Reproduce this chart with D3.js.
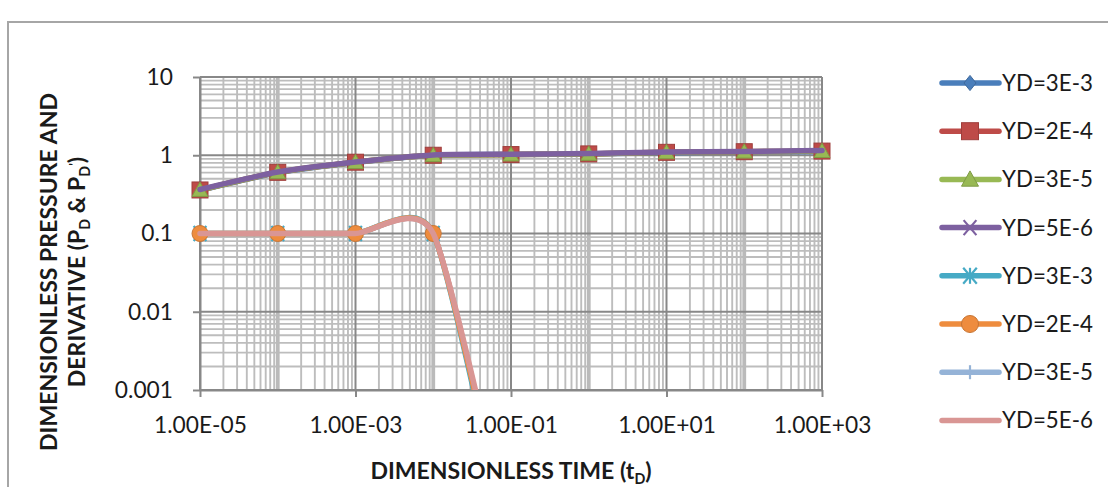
<!DOCTYPE html>
<html><head><meta charset="utf-8">
<script src="https://cdn.jsdelivr.net/npm/d3@7"></script>
<style>
body{margin:0;background:#fff}
svg{display:block}
text{font-family:Lato,"Open Sans",sans-serif}
</style>
</head><body>
<svg id="c" width="1108" height="487"></svg>
<script>
// ---------------- DATA ----------------
const times = [1e-5, 1e-4, 1e-3, 1e-2, 1e-1, 1, 10, 100, 1000];
const pdYD3e3 = [0.355, 0.60, 0.81, 1.00, 1.02, 1.04, 1.08, 1.10, 1.12];
const pdYD2e4 = [0.36, 0.605, 0.815, 1.00, 1.02, 1.04, 1.09, 1.11, 1.13];
const pdYD3e5 = [0.36, 0.605, 0.815, 1.00, 1.02, 1.04, 1.09, 1.11, 1.13];
const pdYD5e6 = [0.365, 0.61, 0.82, 1.01, 1.03, 1.05, 1.10, 1.12, 1.15];
const derTimes = [1e-5, 1e-4, 1e-3, 1e-2, 1e-1];
const derYD3e3 = [0.1, 0.1, 0.1, 0.1, 6e-6];
const derYD2e4 = [0.1, 0.1, 0.1, 0.1, 7.5e-6];
const derYD3e5 = [0.1, 0.1, 0.1, 0.1, 8.5e-6];
const derYD5e6 = [0.1, 0.1, 0.1, 0.1, 1e-5];
const seriesNames = ["YD=3E-3","YD=2E-4","YD=3E-5","YD=5E-6","YD=3E-3","YD=2E-4","YD=3E-5","YD=5E-6"];
const xTickValues = [1e-5, 1e-3, 1e-1, 1e1, 1e3];
const xTickLabels = ["1.00E-05","1.00E-03","1.00E-01","1.00E+01","1.00E+03"];
const yTickValues = [0.001, 0.01, 0.1, 1, 10];
const yTickLabels = ["0.001","0.01","0.1","1","10"];
const xTitle = "DIMENSIONLESS TIME";
const yTitle1 = "DIMENSIONLESS PRESSURE AND";

// ---------------- STYLE ----------------
const colors = ["#4A7EBB","#BE4B48","#98B954","#7D60A0","#46AAC5","#EE8C3E","#95B3D7","#D99694"];
const markers = ["diamond","square","triangle","x","star","circle","plus","none"];
const series = [
  {t: times, v: pdYD3e3}, {t: times, v: pdYD2e4}, {t: times, v: pdYD3e5}, {t: times, v: pdYD5e6},
  {t: derTimes, v: derYD3e3}, {t: derTimes, v: derYD2e4}, {t: derTimes, v: derYD3e5}, {t: derTimes, v: derYD5e6}
].map((s, i) => ({...s, name: seriesNames[i], color: colors[i], marker: markers[i]}));

const svg = d3.select("#c");
const L = 200, R = 822, T = 77, B = 390;
const x = d3.scaleLog().domain([1e-5, 1e3]).range([L, R]);
const y = d3.scaleLog().domain([1e-3, 10]).range([B, T]);

function fitFont(sample, target, weight) {
  const t = svg.append("text").attr("font-size", 100).attr("font-weight", weight).text(sample);
  const w = t.node().getComputedTextLength(); t.remove();
  return 100 * target / w;
}
const tickFont = fitFont("1.00E-05", 93, 400);
const legFont = fitFont("YD=3E-3", 91, 400);
const titleFont = fitFont(yTitle1, 358, 700);

// chart area frame
svg.append("path").attr("d", "M8,1200V22H1300").attr("fill", "none").attr("stroke", "#a6a6a6").attr("stroke-width", 2);

// ---------------- GRID ----------------
const grid = svg.append("g");
const minorX = [], midX = [];
for (let e = -5; e <= 2; e++) {
  for (let d = 2; d <= 9; d++) minorX.push(d * Math.pow(10, e));
  if (e > -5 && (e + 5) % 2 === 1) midX.push(Math.pow(10, e));
}
const minorY = [];
for (let e = -3; e <= 0; e++) for (let d = 2; d <= 9; d++) minorY.push(d * Math.pow(10, e));

grid.selectAll(".mx").data(minorX).join("line")
  .attr("x1", d => x(d)).attr("x2", d => x(d)).attr("y1", T).attr("y2", B)
  .attr("stroke", "#bdbdbd").attr("stroke-width", 1.9);
grid.selectAll(".my").data(minorY).join("line")
  .attr("y1", d => y(d)).attr("y2", d => y(d)).attr("x1", L).attr("x2", R)
  .attr("stroke", "#bdbdbd").attr("stroke-width", 1.9);
grid.selectAll(".dx").data(midX).join("line")
  .attr("x1", d => x(d)).attr("x2", d => x(d)).attr("y1", T).attr("y2", B)
  .attr("stroke", "#bababa").attr("stroke-width", 3.8);
grid.selectAll(".Mx").data(xTickValues).join("line")
  .attr("x1", d => x(d)).attr("x2", d => x(d)).attr("y1", T).attr("y2", B)
  .attr("stroke", "#888888").attr("stroke-width", 2);
grid.selectAll(".My").data(yTickValues).join("line")
  .attr("y1", d => y(d)).attr("y2", d => y(d)).attr("x1", L).attr("x2", R)
  .attr("stroke", "#888888").attr("stroke-width", 2);

// ---------------- AXES ----------------
const xAxis = svg.append("g").attr("transform", `translate(0,${B})`)
  .call(d3.axisBottom(x).tickValues(xTickValues).tickFormat((d, i) => xTickLabels[i]).tickSize(7).tickSizeOuter(0).tickPadding(20));
const yAxis = svg.append("g").attr("transform", `translate(${L},0)`)
  .call(d3.axisLeft(y).tickValues(yTickValues).tickFormat((d, i) => yTickLabels[i]).tickSize(7).tickSizeOuter(0).tickPadding(20));
[xAxis, yAxis].forEach(a => {
  a.select(".domain").attr("stroke", "#888888").attr("stroke-width", 2);
  a.selectAll(".tick line").attr("stroke", "#888888").attr("stroke-width", 2);
  a.selectAll(".tick text").attr("font-size", tickFont).attr("fill", "#1a1a1a").attr("font-family", "Lato");
});

// ---------------- TITLES ----------------
const xt = svg.append("text").attr("x", (L + R) / 2).attr("y", 479).attr("text-anchor", "middle")
  .attr("font-size", titleFont).attr("font-weight", 700).attr("fill", "#1a1a1a");
xt.append("tspan").text(xTitle + " (t");
xt.append("tspan").attr("font-size", titleFont * 0.62).attr("dy", titleFont * 0.22).text("D");
xt.append("tspan").attr("dy", -titleFont * 0.22).text(")");

const yt = svg.append("g").attr("transform", "translate(0,272) rotate(-90)");
yt.append("text").attr("x", 0).attr("y", 57).attr("text-anchor", "middle")
  .attr("font-size", titleFont).attr("font-weight", 700).attr("fill", "#1a1a1a").text(yTitle1);
const y2 = yt.append("text").attr("x", 0).attr("y", 85).attr("text-anchor", "middle")
  .attr("font-size", titleFont).attr("font-weight", 700).attr("fill", "#1a1a1a");
y2.append("tspan").text("DERIVATIVE (P");
y2.append("tspan").attr("font-size", titleFont * 0.62).attr("dy", titleFont * 0.22).text("D");
y2.append("tspan").attr("dy", -titleFont * 0.22).text(" & P");
y2.append("tspan").attr("font-size", titleFont * 0.62).attr("dy", titleFont * 0.22).text("D");
y2.append("tspan").attr("font-size", titleFont * 0.55).attr("dy", -titleFont * 0.5).text("'");
y2.append("tspan").attr("dy", titleFont * 0.28).text(")");

// ---------------- MARKERS ----------------
function darker(c) { return d3.color(c).darker(0.5).formatHex(); }
function drawMarker(g, type, cx, cy, color, s) {
  const h = s / 2;
  if (type === "diamond") {
    g.append("path").attr("d", `M${cx},${cy - h * 0.95}L${cx + h * 0.75},${cy}L${cx},${cy + h * 0.95}L${cx - h * 0.75},${cy}Z`)
      .attr("fill", color).attr("stroke", darker(color)).attr("stroke-width", 1);
  } else if (type === "square") {
    g.append("rect").attr("x", cx - h).attr("y", cy - h).attr("width", s).attr("height", s)
      .attr("fill", color).attr("stroke", darker(color)).attr("stroke-width", 1);
  } else if (type === "triangle") {
    g.append("path").attr("d", `M${cx},${cy - h}L${cx + h},${cy + h * 0.8}L${cx - h},${cy + h * 0.8}Z`)
      .attr("fill", color).attr("stroke", darker(color)).attr("stroke-width", 1);
  } else if (type === "circle") {
    g.append("circle").attr("cx", cx).attr("cy", cy).attr("r", h)
      .attr("fill", color).attr("stroke", darker(color)).attr("stroke-width", 1);
  } else if (type === "x" || type === "star" || type === "plus") {
    const segs = [];
    if (type !== "plus") segs.push([-h, -h, h, h], [-h, h, h, -h]);
    if (type !== "x") segs.push([0, -h, 0, h]);
    if (type === "plus") segs.push([-h, 0, h, 0]);
    segs.forEach(q => g.append("line").attr("x1", cx + q[0] * 0.85).attr("y1", cy + q[1])
      .attr("x2", cx + q[2] * 0.85).attr("y2", cy + q[3]).attr("stroke", color).attr("stroke-width", 2.2));
  }
}

// ---------------- SERIES ----------------
svg.append("defs").append("clipPath").attr("id", "clip").append("rect")
  .attr("x", 0).attr("y", 0).attr("width", 1108).attr("height", B);
const plot = svg.append("g").attr("clip-path", "url(#clip)");
const line = d3.line().x(d => x(d[0])).y(d => y(d[1])).curve(d3.curveCardinal.tension(0.35));
const pts = s => s.t.map((t, i) => [t, s.v[i]]);
const msize = {diamond: 15, square: 16, triangle: 16, x: 14, star: 15, circle: 16, plus: 13};
function drawLine(i) {
  plot.append("path").datum(pts(series[i])).attr("d", line).attr("fill", "none")
    .attr("stroke", series[i].color).attr("stroke-width", 5.5)
    .attr("stroke-linejoin", "round").attr("stroke-linecap", "round");
}
function drawMarks(i) {
  const s = series[i];
  if (s.marker === "none") return;
  const g = plot.append("g");
  pts(s).forEach(p => drawMarker(g, s.marker, x(p[0]), y(p[1]), s.color, msize[s.marker]));
}
// pressure group
drawLine(0); drawLine(1); drawLine(2);
drawMarks(0); drawMarks(3); drawMarks(1); drawMarks(2);
drawLine(3);
// derivative group
drawLine(4); drawLine(6); drawLine(5);
drawMarks(4); drawMarks(6); drawMarks(5);
drawLine(7);

// ---------------- LEGEND ----------------
const leg = svg.append("g");
series.forEach((s, i) => {
  const cy = 83 + i * 48.2;
  leg.append("line").attr("x1", 942).attr("x2", 999).attr("y1", cy).attr("y2", cy)
    .attr("stroke", s.color).attr("stroke-width", 5.5).attr("stroke-linecap", "round");
  if (s.marker !== "none") drawMarker(leg, s.marker, 970, cy, s.color, msize[s.marker] + 1);
  leg.append("text").attr("x", 1002).attr("y", cy).attr("dy", "0.36em")
    .attr("font-size", legFont).attr("fill", "#1a1a1a").text(s.name);
});
</script>
</body></html>
